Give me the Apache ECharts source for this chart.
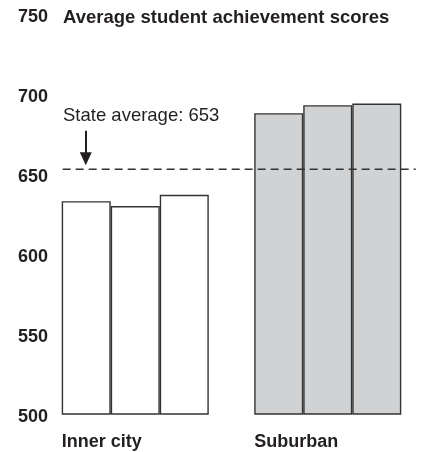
<!DOCTYPE html>
<html>
<head>
<meta charset="utf-8">
<script src="https://cdn.jsdelivr.net/npm/echarts@6/dist/echarts.min.js"></script>
<style>
  html, body { margin: 0; padding: 0; background: #fff; }
  #chart { width: 425px; height: 452px; }
</style>
</head>
<body>
<div id="chart"></div>
<script>
// data
const categories = ['Inner city', 'Suburban'];
const innerCity = [633, 630, 637];
const suburban = [688, 693, 694];
const stateAverage = 653;
const yTicks = [500, 750, 50]; // min, max, interval
// hidden x scale in category-band units (0..2), used for the reference line + arrow
const avgLineSpan = [0.123, 1.957];
const arrowX = 0.243;
const arrowFrom = 677;
const arrowTo = 659.5;

const ink = '#231f20';
const font = 'Liberation Sans, Arial, Helvetica, sans-serif';

const chart = echarts.init(document.getElementById('chart'));

const barSeries = innerCity.map(function (v, i) {
  return {
    type: 'bar',
    barGap: 0,
    barCategoryGap: '23.6%',
    silent: true,
    data: [
      { value: v, itemStyle: { color: '#ffffff' } },
      { value: suburban[i], itemStyle: { color: '#d1d2d4' } }
    ],
    itemStyle: { borderColor: '#333', borderWidth: 1.4 }
  };
});

const option = {
  animation: false,
  grid: { left: 39, right: 1, top: 14, bottom: 38 },
  xAxis: [{
    type: 'category',
    data: categories,
    axisLine: { show: false },
    axisTick: { show: false },
    axisLabel: {
      margin: 19,
      formatter: function (v) { return '{a|' + v + '}'; },
      rich: {
        a: { width: 147, align: 'left', fontSize: 18, fontWeight: 'bold', color: ink, fontFamily: font }
      }
    }
  }, {
    type: 'value',
    min: 0,
    max: 2,
    show: false
  }],
  yAxis: {
    type: 'value',
    min: yTicks[0],
    max: yTicks[1],
    interval: yTicks[2],
    axisLine: { show: false },
    axisTick: { show: false },
    splitLine: { show: false },
    axisLabel: {
      margin: -9,
      formatter: function (v) { return '{n|' + v + '}'; },
      rich: {
        n: { fontSize: 18, fontWeight: 'bold', color: ink, fontFamily: font, padding: [6, 0, 0, 0] }
      }
    }
  },
  graphic: [{
    type: 'text',
    left: 63,
    top: 8,
    style: {
      text: 'Average student achievement scores',
      fontSize: 18.5,
      fontWeight: 'bold',
      fill: ink,
      fontFamily: font
    }
  }, {
    type: 'text',
    left: 63,
    top: 106,
    style: {
      text: 'State average: ' + stateAverage,
      fontSize: 18.5,
      fill: ink,
      fontFamily: font
    }
  }],
  series: barSeries.concat([{
    type: 'line',
    xAxisIndex: 1,
    silent: true,
    symbol: 'none',
    data: [[avgLineSpan[0], stateAverage], [avgLineSpan[1], stateAverage]],
    lineStyle: { color: '#333', width: 1.4, type: [8, 5] },
    markLine: {
      silent: true,
      symbol: ['none', 'triangle'],
      symbolSize: [12, 13],
      label: { show: false },
      lineStyle: { color: ink, width: 2, type: 'solid' },
      data: [[{ coord: [arrowX, arrowFrom] }, { coord: [arrowX, arrowTo] }]]
    }
  }])
};

chart.setOption(option);
window.addEventListener('resize', function () { chart.resize(); });
</script>
</body>
</html>
